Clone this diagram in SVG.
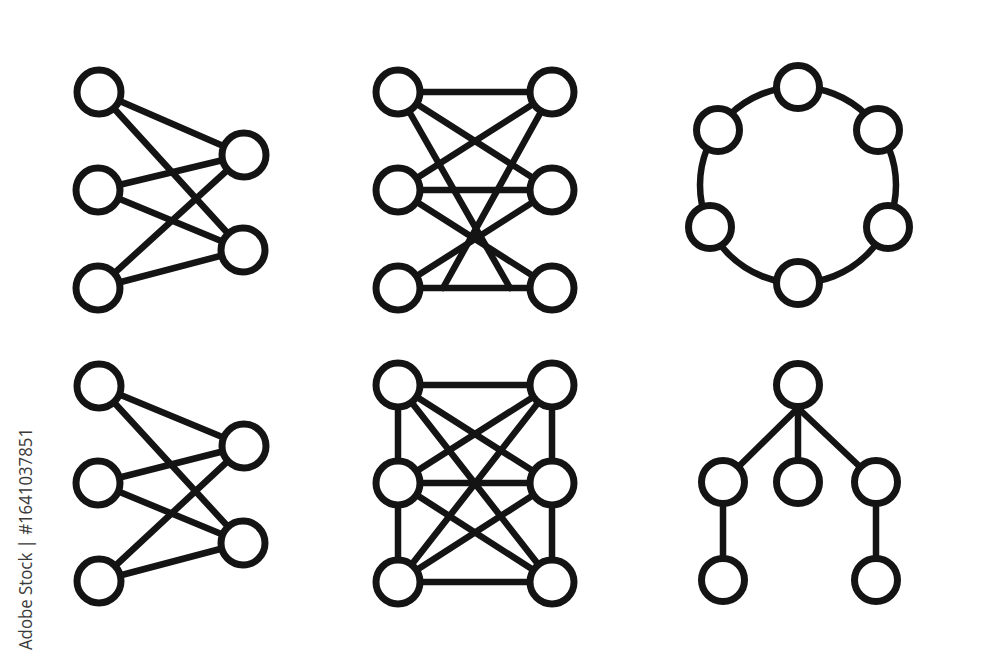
<svg xmlns="http://www.w3.org/2000/svg" width="1000" height="667" viewBox="0 0 1000 667">
<style>
.e{stroke:#141414;stroke-width:6.5;fill:none;stroke-linecap:round}
.n{stroke:#141414;stroke-width:7;fill:#fff}
.wm{font-family:"Open Sans","Noto Sans",sans-serif;font-size:19px;fill:#3a3a3a}
</style>
<rect width="1000" height="667" fill="#fff"/>
<g id="connectors">
<!-- icon 1 -->
<line class="e" x1="99" y1="92" x2="244" y2="155"/>
<line class="e" x1="99" y1="92" x2="243" y2="250"/>
<line class="e" x1="98" y1="190" x2="244" y2="155"/>
<line class="e" x1="98" y1="190" x2="243" y2="250"/>
<line class="e" x1="98" y1="288" x2="244" y2="155"/>
<line class="e" x1="98" y1="288" x2="243" y2="250"/>
<!-- icon 4 -->
<line class="e" x1="99" y1="386" x2="244" y2="446"/>
<line class="e" x1="99" y1="386" x2="243" y2="543"/>
<line class="e" x1="98" y1="483" x2="244" y2="446"/>
<line class="e" x1="98" y1="483" x2="243" y2="543"/>
<line class="e" x1="99" y1="581" x2="244" y2="446"/>
<line class="e" x1="99" y1="581" x2="243" y2="543"/>
<!-- icon 2 -->
<line class="e" x1="398" y1="92" x2="552" y2="92"/>
<line class="e" x1="398" y1="190" x2="552" y2="190"/>
<line class="e" x1="398" y1="288" x2="552" y2="288"/>
<line class="e" x1="398" y1="92" x2="552" y2="190"/>
<line class="e" x1="552" y1="92" x2="398" y2="190"/>
<line class="e" x1="398" y1="190" x2="552" y2="288"/>
<line class="e" x1="552" y1="190" x2="398" y2="288"/>
<line class="e" x1="398" y1="92" x2="510" y2="288"/>
<line class="e" x1="552" y1="92" x2="443" y2="288"/>
<!-- icon 5 -->
<line class="e" x1="398" y1="385" x2="552" y2="385"/>
<line class="e" x1="398" y1="483" x2="552" y2="483"/>
<line class="e" x1="398" y1="582" x2="552" y2="582"/>
<line class="e" x1="398" y1="385" x2="398" y2="582"/>
<line class="e" x1="552" y1="385" x2="552" y2="582"/>
<line class="e" x1="398" y1="385" x2="552" y2="483"/>
<line class="e" x1="552" y1="385" x2="398" y2="483"/>
<line class="e" x1="398" y1="483" x2="552" y2="582"/>
<line class="e" x1="552" y1="483" x2="398" y2="582"/>
<line class="e" x1="398" y1="385" x2="552" y2="582"/>
<line class="e" x1="552" y1="385" x2="398" y2="582"/>
<!-- ring -->
<circle class="e" cx="798" cy="185" r="98"/>
<!-- tree -->
<line class="e" x1="798" y1="408" x2="723" y2="482"/>
<line class="e" x1="798" y1="408" x2="798" y2="482"/>
<line class="e" x1="798" y1="408" x2="876" y2="482"/>
<line class="e" x1="723" y1="482" x2="723" y2="580"/>
<line class="e" x1="876" y1="482" x2="876" y2="580"/>
</g>
<g id="icon1">
<circle class="n" cx="99" cy="92" r="22"/>
<circle class="n" cx="98" cy="190" r="22"/>
<circle class="n" cx="98" cy="288" r="22"/>
<circle class="n" cx="244" cy="155" r="22"/>
<circle class="n" cx="243" cy="250" r="22"/>
</g>
<g id="icon4">
<circle class="n" cx="99" cy="386" r="22"/>
<circle class="n" cx="98" cy="483" r="22"/>
<circle class="n" cx="99" cy="581" r="22"/>
<circle class="n" cx="244" cy="446" r="22"/>
<circle class="n" cx="243" cy="543" r="22"/>
</g>
<g id="icon2">
<circle class="n" cx="398" cy="92" r="22"/>
<circle class="n" cx="552" cy="92" r="22"/>
<circle class="n" cx="398" cy="190" r="22"/>
<circle class="n" cx="552" cy="190" r="22"/>
<circle class="n" cx="398" cy="288" r="22"/>
<circle class="n" cx="552" cy="288" r="22"/>
</g>
<g id="icon5">
<circle class="n" cx="398" cy="385" r="22"/>
<circle class="n" cx="552" cy="385" r="22"/>
<circle class="n" cx="398" cy="483" r="22"/>
<circle class="n" cx="552" cy="483" r="22"/>
<circle class="n" cx="398" cy="582" r="22"/>
<circle class="n" cx="552" cy="582" r="22"/>
</g>
<g id="ring">
<circle class="n" cx="798" cy="87" r="21.5"/>
<circle class="n" cx="718" cy="130" r="21.5"/>
<circle class="n" cx="878" cy="130" r="21.5"/>
<circle class="n" cx="710" cy="227" r="21.5"/>
<circle class="n" cx="888" cy="227" r="21.5"/>
<circle class="n" cx="798" cy="283" r="21.5"/>
</g>
<g id="tree">
<circle class="n" cx="798" cy="385" r="21.5"/>
<circle class="n" cx="723" cy="482" r="21.5"/>
<circle class="n" cx="798" cy="482" r="21.5"/>
<circle class="n" cx="876" cy="482" r="21.5"/>
<circle class="n" cx="723" cy="580" r="21.5"/>
<circle class="n" cx="876" cy="580" r="21.5"/>
</g>
<text class="wm" x="32" y="650" transform="rotate(-90 32 650)" textLength="222" lengthAdjust="spacingAndGlyphs">Adobe Stock | #1641037851</text>
</svg>
